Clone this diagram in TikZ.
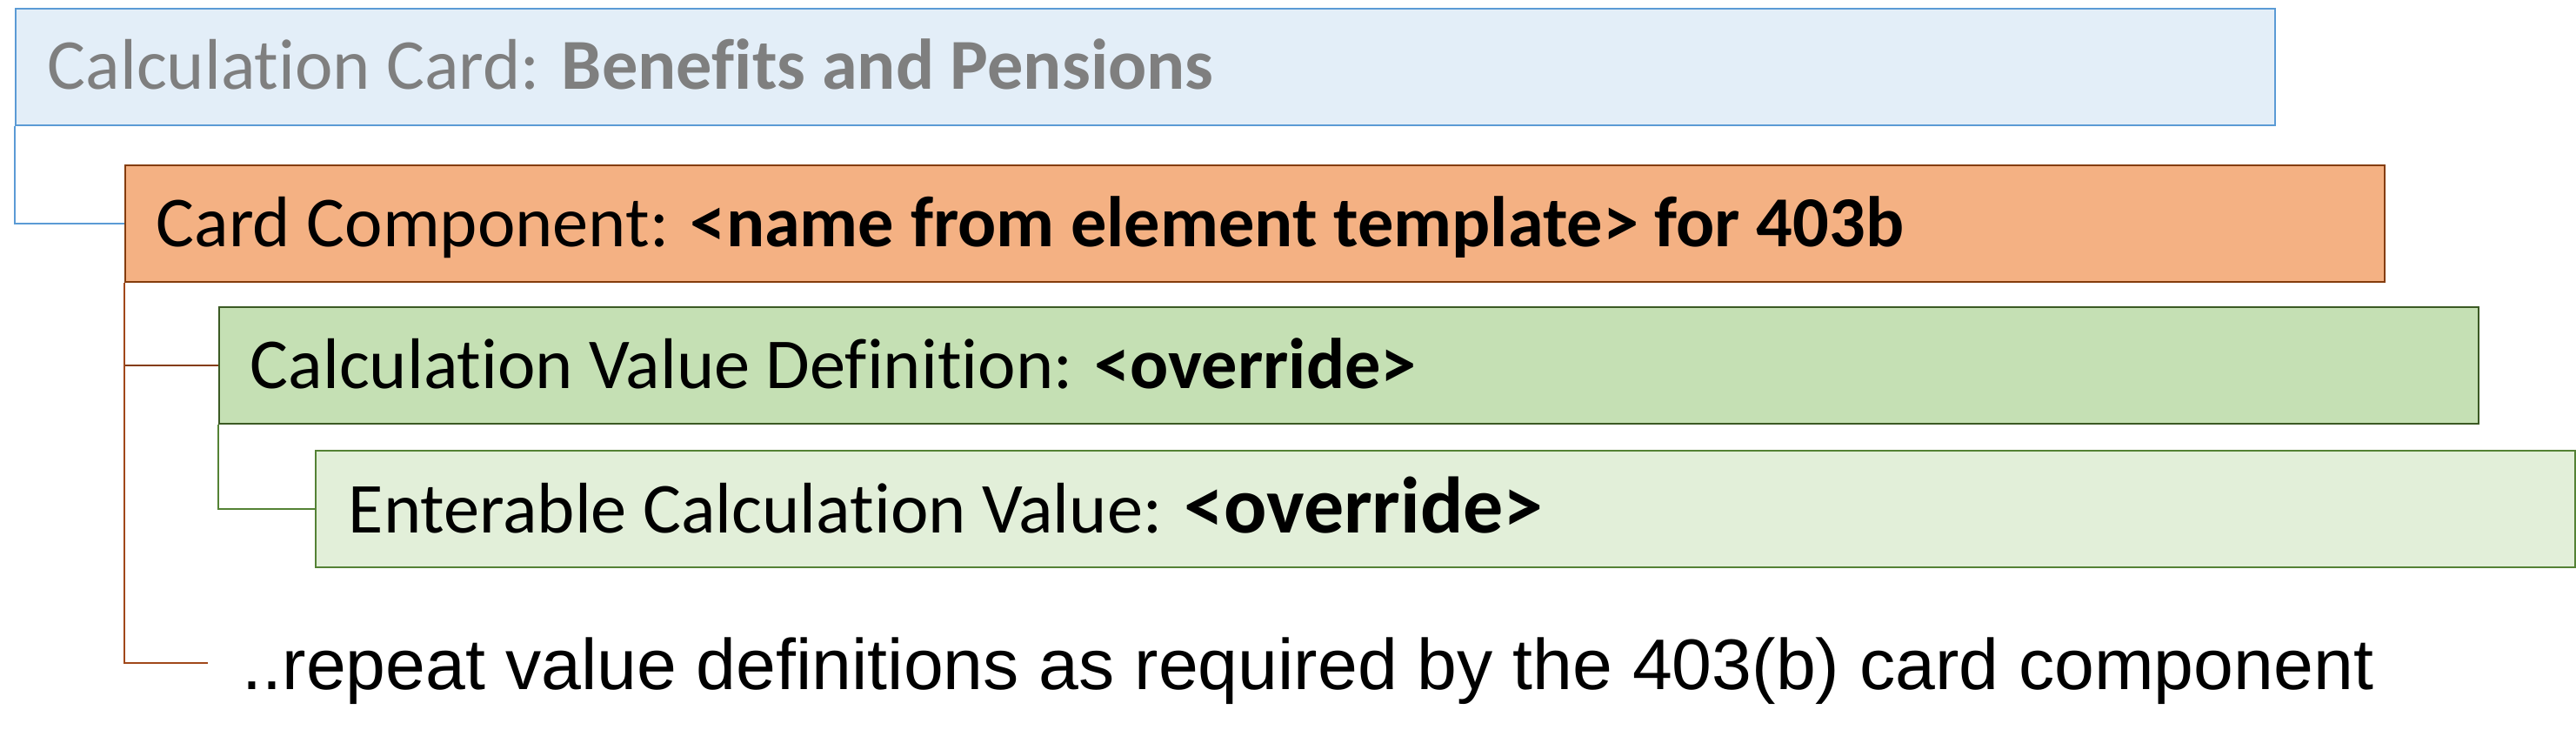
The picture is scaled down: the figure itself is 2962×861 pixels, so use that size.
\documentclass[tikz,border=0pt]{standalone}
\usepackage{fontspec}
\setmainfont{Carlito}[Ligatures=NoCommon]
\newfontfamily\arialf{Liberation Sans}
\definecolor{bOneFill}{HTML}{E3EEF8}
\definecolor{bOneLine}{HTML}{5B9BD5}
\definecolor{bOneText}{HTML}{7F7F7F}
\definecolor{bTwoFill}{HTML}{F4B183}
\definecolor{bTwoLine}{HTML}{843C0C}
\definecolor{bThreeFill}{HTML}{C5E0B4}
\definecolor{bThreeLine}{HTML}{3B5A24}
\definecolor{bFourFill}{HTML}{E2EFD9}
\definecolor{bFourLine}{HTML}{548235}
\definecolor{repLine}{HTML}{A0481A}
\tikzset{
  cardbox/.style={draw, rectangle, anchor=north west, inner sep=0pt,
    minimum width=649.5pt, minimum height=33.5pt, line width=0.55pt},
  cardtext/.style={anchor=base west, inner sep=0pt, font=\fontsize{20.6pt}{25pt}\selectfont},
  link/.style={line width=0.35pt}
}
\begin{document}
\begin{tikzpicture}[x=0.25pt,y=-0.25pt]
\useasboundingbox (0,0) rectangle (2962,861);
% boxes
\node[cardbox, fill=bOneFill, draw=bOneLine] (b1) at (17,9) {};
\node[cardbox, fill=bTwoFill, draw=bTwoLine] (b2) at (143,189) {};
\node[cardbox, fill=bThreeFill, draw=bThreeLine] (b3) at (251,352) {};
\node[cardbox, fill=bFourFill, draw=bFourLine] (b4) at (362,517) {};
% texts
\node[cardtext, text=bOneText] (t1) at (54,102) {Calculation Card: \textbf{Benefits and Pensions}};
\node[cardtext] (t2) at (179,283) {Card Component: \textbf{<name from element template> for 403b}};
\node[cardtext] (t3) at (287,446) {Calculation Value Definition: \textbf{<override>}};
\node[cardtext] (t4) at (400,612) {Enterable Calculation Value: {\fontsize{23pt}{27pt}\selectfont\textbf{<override>}}};
\node[anchor=base west, inner sep=0pt, font=\arialf\fontsize{20.6pt}{25pt}\selectfont] (rep) at (278,792) {..repeat value definitions as required by the 403(b) card component};
\coordinate (repend) at (239,762);
% connectors
\draw[link, draw=bOneLine, line width=0.45pt] (b1.south west) |- (b2.west);
\draw[link, draw=bTwoLine] (b2.south west) |- (b3.west);
\draw[link, draw=repLine] (b2.south west) |- (repend);
\draw[link, draw=bFourLine] (b3.south west) |- (b4.west);
\end{tikzpicture}
\end{document}
